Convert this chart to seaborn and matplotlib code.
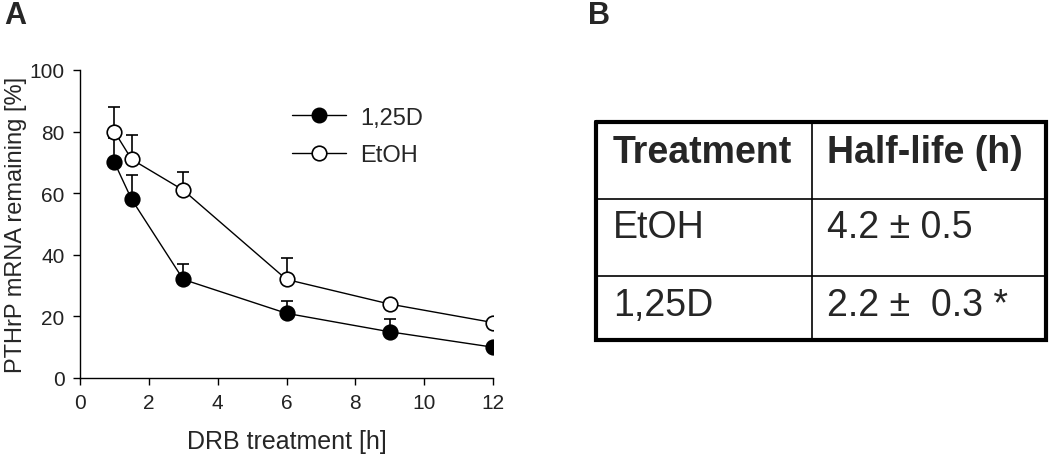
import matplotlib
matplotlib.use("Agg")
import matplotlib.pyplot as plt
import seaborn as sns
import pandas as pd
import numpy as np
from matplotlib.lines import Line2D

# ---- data ----
hours = [1, 1.5, 3, 6, 9, 12]
d125_vals = [70, 58, 32, 21, 15, 10]
d125_err = [8, 8, 5, 4, 4, 0]
etoh_vals = [80, 71, 61, 32, 24, 18]
etoh_err = [8, 8, 6, 7, 0, 0]
series_names = ["1,25D", "EtOH"]
x_ticks = [0, 2, 4, 6, 8, 10, 12]
y_ticks = [0, 20, 40, 60, 80, 100]
table_header = ["Treatment", "Half-life (h)"]
table_rows = [["EtOH", "4.2 \u00b1 0.5"], ["1,25D", "2.2 \u00b1  0.3 *"]]

sns.set_theme(style="ticks")
plt.rcParams['font.family'] = ['Liberation Sans', 'DejaVu Sans']

df = pd.DataFrame({
    "h": hours * 2,
    "v": d125_vals + etoh_vals,
    "s": [series_names[0]] * len(hours) + [series_names[1]] * len(hours),
})

fig = plt.figure(figsize=(10.5, 4.6), dpi=100)
ax = fig.add_axes([80/1050, 1 - 379/460, (493-80)/1050, (379-71)/460])

sns.lineplot(data=df, x="h", y="v", hue="s", hue_order=series_names,
             palette={"1,25D": "black", "EtOH": "black"},
             marker="o", linewidth=1.0, markersize=10.5, ax=ax, legend=False)
data_lines = list(ax.get_lines())
ln_d, ln_e = data_lines[0], data_lines[1]
for ln, face in [(ln_d, "black"), (ln_e, "white")]:
    ln.set_markerfacecolor(face)
    ln.set_markeredgecolor("black")
    ln.set_markeredgewidth(1.2)
    ln.set_zorder(3)

# error bars (upper only)
for vals, err in [(etoh_vals, etoh_err), (d125_vals, d125_err)]:
    ax.errorbar(hours, vals, yerr=[np.zeros(len(err)), err], fmt="none",
                ecolor="black", elinewidth=1.2, capsize=4, capthick=1.2, zorder=2)

handles = [Line2D([], [], color="black", lw=1.0, marker="o", ms=10.5, mfc="black", mec="black"),
           Line2D([], [], color="black", lw=1.0, marker="o", ms=10.5, mfc="white", mec="black", mew=1.2)]
ax.legend(handles, series_names, loc="upper left", bbox_to_anchor=(0.49, 0.912),
          frameon=False, fontsize=17, handlelength=2.3, handletextpad=0.6,
          labelspacing=0.65, borderaxespad=0)

ax.set_xlim(0, 12)
ax.set_ylim(0, 100)
ax.set_xticks(x_ticks)
ax.set_yticks(y_ticks)
ax.tick_params(axis="both", labelsize=15, length=5, width=1, color="black", labelcolor="#222222", pad=6)
for sp in ["left", "bottom"]:
    ax.spines[sp].set_linewidth(1)
    ax.spines[sp].set_color("black")
sns.despine(ax=ax)
ax.set_xlabel("DRB treatment [h]", fontsize=18, labelpad=12)
ax.set_ylabel("PTHrP mRNA remaining [%]", fontsize=17)
ax.yaxis.set_label_coords(-0.128, 0.5)

# panel letters
fig.text(4/1050, 1 - 1/460, "A", fontsize=22, fontweight="bold", ha="left", va="top")
fig.text(588/1050, 1 - 1/460, "B", fontsize=22, fontweight="bold", ha="left", va="top")

# ---- table ----
tax = fig.add_axes([0, 0, 1, 1])
tax.set_xlim(0, 1050)
tax.set_ylim(460, 0)
tax.axis("off")
L, R, T, B = 596, 1046, 123, 341
colx = 812
rowy = [200, 277]
tax.plot([L, R, R, L, L], [T, T, B, B, T], color="black", lw=3.0, solid_joinstyle="miter")
tax.plot([colx, colx], [T, B], color="black", lw=1.2)
for ry in rowy:
    tax.plot([L, R], [ry, ry], color="black", lw=1.2)
text_x = [613, 827]
row_centers = [153, 228, 306]
for j, h in enumerate(table_header):
    tax.text(text_x[j], row_centers[0], h, fontsize=27, fontweight="bold", ha="left", va="center")
for i, row in enumerate(table_rows):
    for j, c in enumerate(row):
        tax.text(text_x[j], row_centers[i+1], c, fontsize=27, ha="left", va="center")

fig.savefig("out.png", dpi=100)
